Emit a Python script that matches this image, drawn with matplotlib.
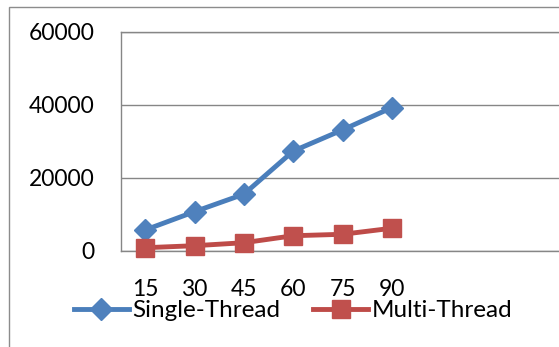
import matplotlib
matplotlib.use("Agg")
import matplotlib.pyplot as plt
from matplotlib.patches import Rectangle

categories = ["15", "30", "45", "60", "75", "90"]
single_thread = [5700, 10700, 15500, 27300, 33100, 39200]
multi_thread = [820, 1370, 2190, 4100, 4500, 6150]
y_ticks = [0, 20000, 40000, 60000]

plt.rcParams['font.family'] = ['Lato', 'DejaVu Sans']

W, H = 559, 347
fig = plt.figure(figsize=(W / 100, H / 100), dpi=100)
fig.patch.set_facecolor('white')

# outer chart frame (cropped at right/bottom)
fig.patches.append(Rectangle((9.3 / W, -0.1), 1.2, 1 - 6.7 / H + 0.1,
                             transform=fig.transFigure, fill=False,
                             edgecolor='#8c8c8c', linewidth=1.0))

left = 120.7 / W
bottom = 1 - 250.7 / H
top = 1 - 31.7 / H
slot = 49.3
ax = fig.add_axes([left, bottom, 9 * slot / W, top - bottom])

x = list(range(len(categories)))
blue = '#4a7ebb'
red = '#be4b48'
ax.plot(x, single_thread, color=blue, linewidth=3.5, marker='D',
        markersize=11.5, markerfacecolor='#4f81bd', markeredgecolor='#4f81bd',
        label='Single-Thread', zorder=3, clip_on=False)
ax.plot(x, multi_thread, color=red, linewidth=3.5, marker='s',
        markersize=13, markerfacecolor='#c0504d', markeredgecolor='#c0504d',
        label='Multi-Thread', zorder=3, clip_on=False)

ax.set_xlim(-0.5, 8.5)
ax.set_ylim(0, 60000)
ax.set_yticks(y_ticks)
ax.set_yticklabels([str(v) for v in y_ticks])
ax.set_xticks(x)
ax.set_xticklabels(categories)
ax.tick_params(axis='both', length=0, labelsize=16.5)
ax.tick_params(axis='y', pad=19)
ax.tick_params(axis='x', pad=20.5)
ax.grid(axis='y', color='#868686', linewidth=1.0)
ax.set_axisbelow(True)
for s in ['left', 'top', 'bottom']:
    ax.spines[s].set_color('#868686')
    ax.spines[s].set_linewidth(1.0)
ax.spines['right'].set_visible(False)

fig.legend(loc='center', bbox_to_anchor=(293 / W, 1 - 310.7 / H), ncol=2,
           frameon=False, fontsize=17.5, handlelength=2.26, handletextpad=0.15,
           columnspacing=1.36, borderaxespad=0, borderpad=0)

fig.savefig('out.png', dpi=100)
